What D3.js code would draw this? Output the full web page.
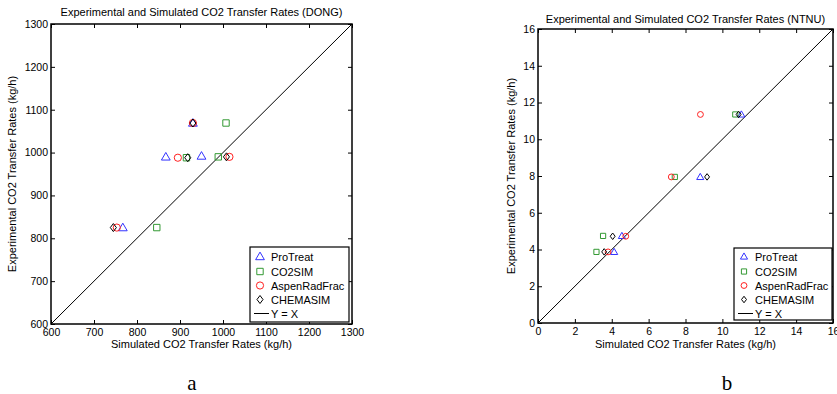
<!DOCTYPE html>
<html>
<head>
<meta charset="utf-8">
<script src="https://cdn.jsdelivr.net/npm/d3@7"></script>
<style>
  body { margin: 0; background: #fff; }
  svg { display: block; font-family: "Liberation Sans", Arial, sans-serif; }
</style>
</head>
<body>
<div id="chart"></div>
<script>
// ---------------  DATA  ---------------
const seriesNames = ["ProTreat", "CO2SIM", "AspenRadFrac", "CHEMASIM"];
const seriesColors = ["#3333ff", "#339933", "#ff2020", "#000000"];
const seriesShapes = ["triangle", "square", "circle", "diamond"];

// DONG: [simulated, experimental] in kg/h
const dongProTreat = [[767, 825], [867, 990], [950, 992], [930, 1069]];
const dongCO2SIM = [[846, 825], [915, 988], [989, 990], [1007, 1069]];
const dongAspen = [[753, 825], [895, 988], [1015, 990], [930, 1069]];
const dongChemasim = [[745, 825], [918, 988], [1008, 990], [930, 1069]];
const dongTicks = [600, 700, 800, 900, 1000, 1100, 1200, 1300];

// NTNU
const ntnuProTreat = [[4.13, 3.87], [4.55, 4.74], [8.8, 7.95], [11.03, 11.35]];
const ntnuCO2SIM = [[3.17, 3.87], [3.53, 4.74], [7.42, 7.95], [10.7, 11.35]];
const ntnuAspen = [[3.8, 3.87], [4.76, 4.72], [7.23, 7.95], [8.81, 11.35]];
const ntnuChemasim = [[3.59, 3.87], [4.05, 4.72], [9.17, 7.95], [10.88, 11.35]];
const ntnuTicks = [0, 2, 4, 6, 8, 10, 12, 14, 16];

const W = 837, H = 394;
const svg = d3.select("#chart").append("svg").attr("width", W).attr("height", H);

// marker path centred on 0,0
function markerPath(shape, s) {
  if (shape == "triangle") return `M0,${-s * 0.55}L${s * 0.55},${s * 0.4}L${-s * 0.55},${s * 0.4}Z`;
  if (shape == "square") return `M${-s * 0.4},${-s * 0.4}h${s * 0.8}v${s * 0.8}h${-s * 0.8}Z`;
  if (shape == "circle") return `M${s * 0.45},0A${s * 0.45},${s * 0.45} 0 1,1 ${-s * 0.45},0A${s * 0.45},${s * 0.45} 0 1,1 ${s * 0.45},0Z`;
  return `M0,${-s * 0.5}L${s * 0.38},0L0,${s * 0.5}L${-s * 0.38},0Z`;
}

function drawPanel(p) {
  const x = d3.scaleLinear().domain(p.domain).range([p.left, p.right]);
  const y = d3.scaleLinear().domain(p.domain).range([p.bottom, p.top]);
  const g = svg.append("g");
  const fmt = d3.format("d");

  // ticks inside on all 4 sides (MATLAB box)
  const tl = 4;
  g.append("g").attr("transform", `translate(0,${p.bottom})`)
    .call(d3.axisBottom(x).tickValues(p.ticks).tickFormat(fmt).tickSizeInner(-tl).tickSizeOuter(0).tickPadding(5))
    .call(a => a.select(".domain").remove());
  g.append("g").attr("transform", `translate(0,${p.top})`)
    .call(d3.axisTop(x).tickValues(p.ticks).tickSizeInner(-tl).tickSizeOuter(0).tickFormat(""))
    .call(a => a.select(".domain").remove());
  g.append("g").attr("transform", `translate(${p.left},0)`)
    .call(d3.axisLeft(y).tickValues(p.ticks).tickFormat(fmt).tickSizeInner(-tl).tickSizeOuter(0).tickPadding(3))
    .call(a => a.select(".domain").remove());
  g.append("g").attr("transform", `translate(${p.right},0)`)
    .call(d3.axisRight(y).tickValues(p.ticks).tickSizeInner(-tl).tickSizeOuter(0).tickFormat(""))
    .call(a => a.select(".domain").remove());
  g.selectAll(".tick text").attr("font-size", "10.5px").attr("font-family", "Liberation Sans, Arial, sans-serif").attr("fill", "#000");
  g.selectAll(".tick line").attr("stroke", "#000");

  g.append("rect").attr("x", p.left).attr("y", p.top)
    .attr("width", p.right - p.left).attr("height", p.bottom - p.top)
    .attr("fill", "none").attr("stroke", "#000").attr("stroke-width", 1.5);

  // Y = X
  g.append("line")
    .attr("x1", x(p.domain[0])).attr("y1", y(p.domain[0]))
    .attr("x2", x(p.domain[1])).attr("y2", y(p.domain[1]))
    .attr("stroke", "#000").attr("stroke-width", 1);

  // markers
  p.series.forEach((data, i) => {
    g.selectAll(null).data(data).enter().append("path")
      .attr("d", markerPath(seriesShapes[i], p.ms))
      .attr("transform", d => `translate(${x(d[0])},${y(d[1])})`)
      .attr("fill", "none").attr("stroke", seriesColors[i]).attr("stroke-width", 1);
  });

  // titles and labels
  g.append("text").attr("x", (p.left + p.right) / 2).attr("y", p.titleY)
    .attr("text-anchor", "middle").attr("font-size", "11px")
    .text(p.title);
  g.append("text").attr("x", (p.left + p.right) / 2).attr("y", 348)
    .attr("text-anchor", "middle").attr("font-size", "11px")
    .text("Simulated CO2 Transfer Rates (kg/h)");
  g.append("text")
    .attr("transform", `translate(${p.ylabX},${(p.top + p.bottom) / 2}) rotate(-90)`)
    .attr("text-anchor", "middle").attr("font-size", "11px")
    .text("Experimental CO2 Transfer Rates (kg/h)");

  // legend
  const lg = g.append("g");
  lg.append("rect").attr("x", p.leg[0]).attr("y", p.leg[1])
    .attr("width", p.leg[2] - p.leg[0]).attr("height", p.leg[3] - p.leg[1])
    .attr("fill", "#fff").attr("stroke", "#000").attr("stroke-width", 1.2);
  const rows = [256.5, 271.5, 285.5, 299.5, 313.5];
  seriesNames.forEach((n, i) => {
    lg.append("path").attr("d", markerPath(seriesShapes[i], p.ms))
      .attr("transform", `translate(${p.leg[0] + 10},${rows[i]})`)
      .attr("fill", "none").attr("stroke", seriesColors[i]);
    lg.append("text").attr("x", p.leg[0] + 21).attr("y", rows[i] + 4)
      .attr("font-size", "11px").text(n);
  });
  lg.append("line").attr("x1", p.leg[0] + 4).attr("x2", p.leg[0] + 19)
    .attr("y1", rows[4]).attr("y2", rows[4]).attr("stroke", "#000");
  lg.append("text").attr("x", p.leg[0] + 21).attr("y", rows[4] + 4)
    .attr("font-size", "11px").text("Y = X");

  svg.append("text").attr("x", p.capX).attr("y", 390)
    .attr("text-anchor", "middle").attr("font-family", "Liberation Serif, Times New Roman, serif")
    .attr("font-size", "21px").text(p.caption);
}

drawPanel({
  domain: [600, 1300], ticks: dongTicks,
  left: 51, right: 352, top: 24, bottom: 324,
  series: [dongProTreat, dongCO2SIM, dongAspen, dongChemasim], ms: 8,
  title: "Experimental and Simulated CO2 Transfer Rates (DONG)", titleY: 16,
  ylabX: 16, leg: [250, 247, 349, 322], capX: 192, caption: "a"
});

drawPanel({
  domain: [0, 16], ticks: ntnuTicks,
  left: 538, right: 833, top: 29, bottom: 323,
  series: [ntnuProTreat, ntnuCO2SIM, ntnuAspen, ntnuChemasim], ms: 6.5,
  title: "Experimental and Simulated CO2 Transfer Rates (NTNU)", titleY: 23,
  ylabX: 515, leg: [734, 248, 832, 320], capX: 727, caption: "b"
});
</script>
</body>
</html>
